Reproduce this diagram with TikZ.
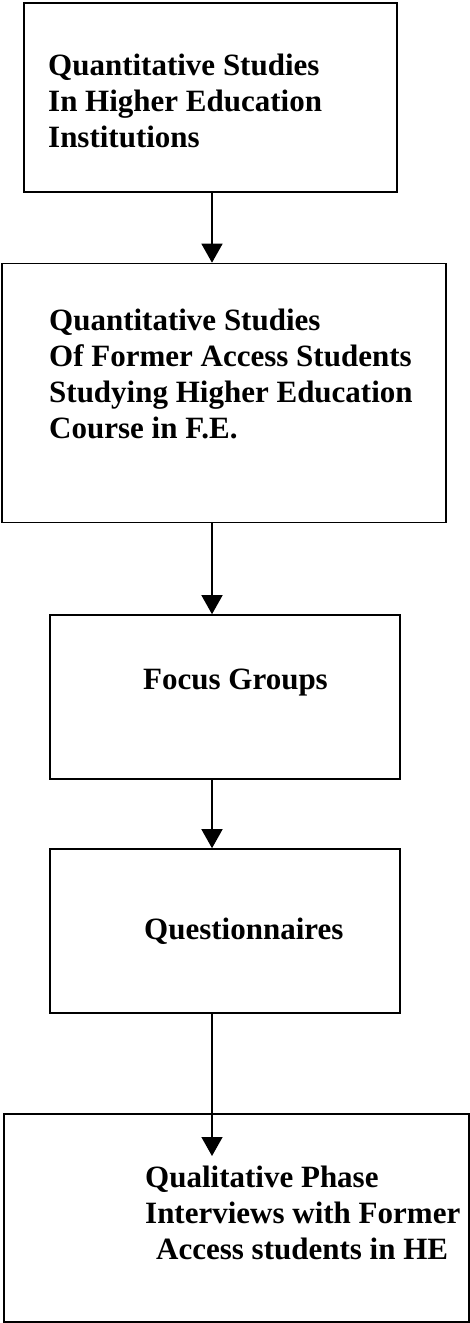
\documentclass[tikz,border=0pt]{standalone}
\usepackage{fontspec}
\setmainfont{Liberation Serif}
\usetikzlibrary{arrows.meta}
\tikzset{
  stepbox/.style={draw=black, line width=1.6pt, inner sep=0pt},
  boxtext/.style={anchor=base west, align=left, inner sep=0pt, font=\bfseries\fontsize{31}{36}\selectfont},
  flow/.style={line width=1.4pt, -{Triangle[width=21pt,length=19pt]}}
}
\begin{document}
\begin{tikzpicture}[x=1pt,y=-1pt]
\useasboundingbox (0,0) rectangle (470,1323);
\node[stepbox, minimum width=373pt, minimum height=189pt] (b1) at (210.5,97.5) {};
\node[stepbox, minimum width=444pt, minimum height=259pt] (b2) at (224,393) {};
\node[stepbox, minimum width=350pt, minimum height=164pt] (b3) at (225,697) {};
\node[stepbox, minimum width=350pt, minimum height=164pt] (b4) at (225,931) {};
\node[stepbox, minimum width=465pt, minimum height=208pt] (b5) at (236.5,1218) {};
\node[boxtext] (t1) at (48,147) {Quantitative Studies\\In Higher Education\\Institutions};
\node[boxtext] (t2) at (49,438) {Quantitative Studies\\Of Former Access Students\\Studying Higher Education\\Course in F.E.};
\node[boxtext] (t3) at (143,689) {Focus Groups};
\node[boxtext] (t4) at (144,939) {Questionnaires};
\node[boxtext] (t5) at (145,1259) {Qualitative Phase\\Interviews with Former\\\hspace*{11pt}Access students in HE};
\coordinate (a4end) at (212,1156);
\draw[flow] (b1.south -| 212,0) -- (b2.north -| 212,0);
\draw[flow] (b2.south -| 212,0) -- (b3.north -| 212,0);
\draw[flow] (b3.south -| 212,0) -- (b4.north -| 212,0);
\draw[flow] (b4.south -| 212,0) -- (a4end);
\end{tikzpicture}
\end{document}
